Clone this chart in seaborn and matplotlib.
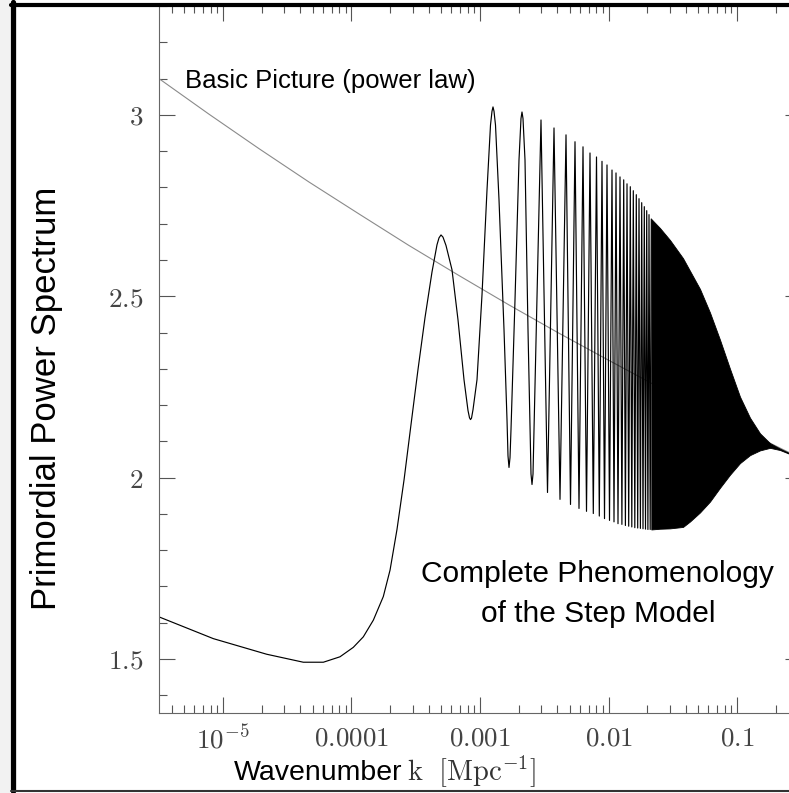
import numpy as np
import pandas as pd
import matplotlib
matplotlib.use("Agg")
import matplotlib.pyplot as plt
import seaborn as sns
from matplotlib.lines import Line2D
from matplotlib.patches import Rectangle
from matplotlib.ticker import FixedLocator, FixedFormatter, LogLocator, MultipleLocator, NullFormatter

# ---------------- data (x values are log10 k, k in Mpc^-1) ----------------
# step model: smooth part and first oscillations
rise_logk = [-5.498, -5.075, -4.660, -4.375, -4.219, -4.0895, -3.986, -3.908, -3.830,
             -3.7525, -3.700, -3.646, -3.591, -3.537, -3.4825, -3.428, -3.3735, -3.3346,
             -3.319, -3.3035, -3.288, -3.2646, -3.2179, -3.1712, -3.1245, -3.0934,
             -3.0817, -3.0739, -3.0661, -3.0545,
             -3.0233, -2.9844, -2.9455, -2.9183, -2.9066, -2.8988, -2.8910, -2.8794,
             -2.8521, -2.8132, -2.7899, -2.7821, -2.7743, -2.7665, -2.7588, -2.7276,
             -2.6965, -2.6810, -2.6732, -2.6654, -2.6498, -2.6265, -2.6031, -2.5953, -2.5875]
rise_p = [1.616, 1.556, 1.513, 1.491, 1.491, 1.506, 1.532, 1.561, 1.607,
          1.672, 1.745, 1.857, 1.994, 2.146, 2.298, 2.441, 2.567, 2.642,
          2.661, 2.669, 2.663, 2.640, 2.573, 2.435, 2.270, 2.185,
          2.165, 2.160, 2.164, 2.187,
          2.270, 2.504, 2.793, 2.972, 3.010, 3.022, 3.010, 2.972,
          2.766, 2.408, 2.160, 2.060, 2.028, 2.055, 2.132, 2.490,
          2.876, 2.990, 3.008, 2.990, 2.876, 2.408, 2.010, 1.981, 2.010]

# step model: successive peaks and troughs of the denser oscillations
osc_logk = [-2.5253, -2.4747, -2.4241, -2.3774, -2.3307, -2.2957, -2.2607, -2.2296,
            -2.1984, -2.1712, -2.1440, -2.1183, -2.0934, -2.0716, -2.0506, -2.0311,
            -2.0117, -1.9922, -1.9728, -1.9572, -1.9416, -1.9261, -1.9105, -1.8957,
            -1.8817, -1.8685, -1.8560, -1.8428, -1.8304, -1.8187, -1.8070, -1.7953,
            -1.7837, -1.7728, -1.7626, -1.7518, -1.7416, -1.7315, -1.7214, -1.7121,
            -1.7027, -1.6934, -1.6848, -1.6755, -1.6669]
osc_p = [2.986, 1.959, 2.964, 1.940, 2.945, 1.926, 2.926, 1.915,
         2.912, 1.907, 2.895, 1.901, 2.884, 1.894, 2.872, 1.887,
         2.862, 1.882, 2.848, 1.878, 2.840, 1.873, 2.829, 1.871,
         2.821, 1.868, 2.810, 1.866, 2.802, 1.864, 2.791, 1.862,
         2.780, 1.861, 2.769, 1.860, 2.758, 1.859, 2.747, 1.858,
         2.736, 1.857, 2.725, 1.857, 2.713]

# step model: unresolved (solid) oscillation band, upper and lower envelope
band_logk = [-1.6669, -1.5992, -1.5214, -1.4202, -1.3658, -1.2879, -1.2101, -1.1323,
             -1.0545, -0.9767, -0.8988, -0.8210, -0.7432, -0.6654, -0.5953, -0.502]
band_hi = [2.713, 2.688, 2.655, 2.605, 2.570, 2.520, 2.455, 2.380,
           2.300, 2.223, 2.165, 2.122, 2.095, 2.080, 2.068, 2.056]
band_lo = [1.857, 1.859, 1.860, 1.864, 1.879, 1.904, 1.934, 1.972,
           2.008, 2.040, 2.062, 2.075, 2.082, 2.076, 2.066, 2.056]

# basic picture (power law)
law_logk = [-5.498, -5.109, -4.720, -4.331, -3.942, -3.553, -3.163, -2.774,
            -2.385, -1.996, -1.607, -1.218, -0.829, -0.502]
law_p = [3.100, 3.002, 2.907, 2.815, 2.727, 2.640, 2.557, 2.476,
         2.398, 2.323, 2.249, 2.178, 2.110, 2.053]

xtick_vals = [1e-5, 1e-4, 1e-3, 1e-2, 1e-1]
xtick_labels = [r"$10^{-5}$", r"$0.0001$", r"$0.001$", r"$0.01$", r"$0.1$"]
ytick_vals = [1.5, 2.0, 2.5, 3.0]
ytick_labels = [r"$1.5$", r"$2$", r"$2.5$", r"$3$"]

# ---------------- figure ----------------
sns.set_theme(style="white")
plt.rcParams["font.family"] = ["Liberation Sans", "DejaVu Sans"]
plt.rcParams["mathtext.fontset"] = "cm"

W, H = 789, 793
fig = plt.figure(figsize=(W / 100, H / 100), dpi=100)
fig.patch.set_facecolor("white")

ax = fig.add_axes([159 / W, (H - 713) / H, (801 - 159) / W, (713 - 5) / H])
ax.set_facecolor("white")
ax.set_xscale("log")

curve = pd.DataFrame({
    "k": 10 ** np.array(rise_logk + osc_logk),
    "P": np.array(rise_p + osc_p),
})
law = pd.DataFrame({"k": 10 ** np.array(law_logk), "P": law_p})

sns.lineplot(data=law, x="k", y="P", ax=ax, color="#8a8a8a", lw=0.8,
             estimator=None, sort=False, zorder=1)
sns.lineplot(data=curve, x="k", y="P", ax=ax, color="black", lw=0.85,
             estimator=None, sort=False, zorder=2)
bk = 10 ** np.array(band_logk)
ax.fill_between(bk, band_lo, band_hi, facecolor="black", edgecolor="black",
                lw=0.6, zorder=2)

ax.set_xlim(10 ** -5.498, 10 ** -0.502)
ax.set_ylim(1.351, 3.303)
ax.set_xlabel("")
ax.set_ylabel("")

ax.xaxis.set_major_locator(FixedLocator(xtick_vals))
ax.xaxis.set_major_formatter(FixedFormatter(xtick_labels))
ax.xaxis.set_minor_locator(LogLocator(base=10, subs=np.arange(2, 10), numticks=20))
ax.xaxis.set_minor_formatter(NullFormatter())
ax.yaxis.set_major_locator(FixedLocator(ytick_vals))
ax.yaxis.set_major_formatter(FixedFormatter(ytick_labels))
ax.yaxis.set_minor_locator(MultipleLocator(0.1))

ax.tick_params(which="both", direction="in", top=True, right=True,
               bottom=True, left=True, color="#555555", width=0.8)
ax.tick_params(which="major", length=11.5)
ax.tick_params(which="minor", length=5.8)
ax.tick_params(axis="x", which="major", labelsize=19.5, pad=9, labelcolor="#444444")
ax.tick_params(axis="y", which="major", labelsize=19.5, pad=11, labelcolor="#444444")

for s in ["top", "right"]:
    ax.spines[s].set_visible(False)
for s in ["left", "bottom"]:
    ax.spines[s].set_color("#666666")
    ax.spines[s].set_linewidth(0.8)

# annotations
ax.text(10 ** -5.296, 3.074, "Basic Picture (power law)", fontsize=18.5,
        color="black", ha="left", va="baseline")
ax.text(10 ** -2.089, 1.7135, "Complete Phenomenology", fontsize=21.5,
        color="black", ha="center", va="baseline")
ax.text(10 ** -2.082, 1.603, "of the Step Model", fontsize=21.5,
        color="black", ha="center", va="baseline")

# axis labels
fig.text(47 / W, (H - 398) / H, "Primordial Power Spectrum", rotation=90,
         fontsize=25, color="black", ha="center", va="center")
fig.text(402 / W, (H - 780) / H, "Wavenumber", fontsize=20.5, color="black",
         ha="right", va="baseline")
fig.text(407 / W, (H - 780) / H, r"$\mathrm{k\ \ [Mpc^{-1}]}$", fontsize=20.5,
         color="#333333", ha="left", va="baseline")

# outer frame
fig.add_artist(Rectangle((0, 0), 10 / W, 1, transform=fig.transFigure,
                         facecolor="#f2f2f2", edgecolor="none", zorder=0))
fig.add_artist(Line2D([13 / W, 13 / W], [(H - 2) / H, (H - 791) / H],
                      transform=fig.transFigure, color="black", lw=3.8))
fig.add_artist(Line2D([11 / W, 1.0], [(H - 4.5) / H, (H - 4.5) / H],
                      transform=fig.transFigure, color="black", lw=3.0))
fig.add_artist(Line2D([11 / W, 1.0], [(H - 791) / H, (H - 791) / H],
                      transform=fig.transFigure, color="#333333", lw=1.5))

fig.savefig("out.png", dpi=100, facecolor="white")
